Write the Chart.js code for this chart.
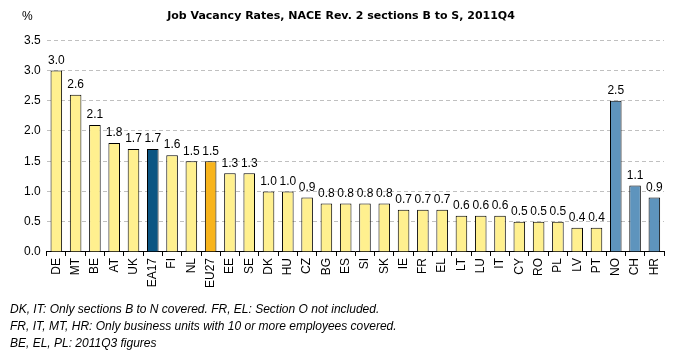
<!DOCTYPE html>
<html>
<head>
<meta charset="utf-8">
<script src="https://cdn.jsdelivr.net/npm/chart.js@4"></script>
<style>
  body { margin: 0; background: #fff; }
  #wrap { position: relative; width: 677px; height: 352px; }
  #unit { position: absolute; left: 22px; top: 9px; font: 12px "Liberation Sans", sans-serif; }
  #notes { position: absolute; left: 10px; top: 301px; font: italic 12px "Liberation Sans", sans-serif; line-height: 17px; }
</style>
</head>
<body>
<div id="wrap">
  <canvas id="myChart" width="677" height="352"></canvas>
  <div id="unit">%</div>
  <div id="notes">
    DK, IT: Only sections B to N covered. FR, EL: Section O not included.<br>
    FR, IT, MT, HR: Only business units with 10 or more employees covered.<br>
    BE, EL, PL: 2011Q3 figures
  </div>
</div>
<script>
// pays / agrégats
const categories = ["DE","MT","BE","AT","UK","EA17","FI","NL","EU27","EE","SE","DK","HU","CZ","BG","ES","SI","SK","IE","FR","EL","LT","LU","IT","CY","RO","PL","LV","PT","NO","CH","HR"];
const vacancyRates = [3.0,2.6,2.1,1.8,1.7,1.7,1.6,1.5,1.5,1.3,1.3,1.0,1.0,0.9,0.8,0.8,0.8,0.8,0.7,0.7,0.7,0.6,0.6,0.6,0.5,0.5,0.5,0.4,0.4,2.5,1.1,0.9];
const yTicks = [0, 0.5, 1.0, 1.5, 2.0, 2.5, 3.0, 3.5];

function barColor(c) {
    if (c === "EA17") return "#0B5583";
    if (c === "EU27") return "#F8B41C";
    if (c === "NO" || c === "CH" || c === "HR") return "#5E94BD";
    return "#FFF08F";
}

// valeurs au-dessus des barres
const valueLabels = {
    id: "valueLabels",
    afterDatasetsDraw(chart) {
        const ctx = chart.ctx;
        const meta = chart.getDatasetMeta(0);
        ctx.save();
        ctx.font = "12px 'Liberation Sans', sans-serif";
        ctx.fillStyle = "#000";
        ctx.textAlign = "center";
        ctx.textBaseline = "bottom";
        meta.data.forEach((bar, i) => {
            ctx.fillText(vacancyRates[i].toFixed(1), bar.x, bar.y - 4);
        });
        ctx.restore();
    }
};

const ctx = document.getElementById("myChart").getContext("2d");
new Chart(ctx, {
    type: "bar",
    data: {
        labels: categories,
        datasets: [{
            data: vacancyRates,
            backgroundColor: categories.map(barColor),
            borderColor: "#000",
            borderWidth: 1,
            borderSkipped: "bottom",
            barPercentage: 0.6,
            categoryPercentage: 1.0
        }]
    },
    options: {
        responsive: false,
        animation: false,
        layout: { padding: { left: 18, right: 13, top: 0, bottom: 62 } },
        plugins: {
            legend: { display: false },
            tooltip: { enabled: false },
            title: {
                display: true,
                text: "Job Vacancy Rates, NACE Rev. 2 sections B to S, 2011Q4",
                color: "#000",
                font: { family: "'DejaVu Sans', sans-serif", size: 11, weight: "bold" },
                padding: { top: 10, bottom: 17 }
            }
        },
        scales: {
            x: {
                grid: { display: true, offset: true, drawOnChartArea: false, color: "#000", tickLength: 4 },
                border: { display: true, color: "#000", width: 1 },
                ticks: {
                    color: "#000",
                    font: { family: "'Liberation Sans', sans-serif", size: 12 },
                    minRotation: 90, maxRotation: 90, autoSkip: false, padding: 2
                }
            },
            y: {
                min: 0, max: 3.5,
                afterBuildTicks(scale) { scale.ticks = yTicks.map(v => ({ value: v })); },
                grid: {
                    color: c => c.tick.value === 0 ? "rgba(0,0,0,0)" : "#C0C0C0",
                    drawTicks: false
                },
                border: { display: false, dash: [4, 3] },
                ticks: {
                    color: "#000",
                    padding: 6,
                    font: { family: "'Liberation Sans', sans-serif", size: 12 },
                    callback: v => Number(v).toFixed(1)
                }
            }
        }
    },
    plugins: [valueLabels]
});
</script>
</body>
</html>
